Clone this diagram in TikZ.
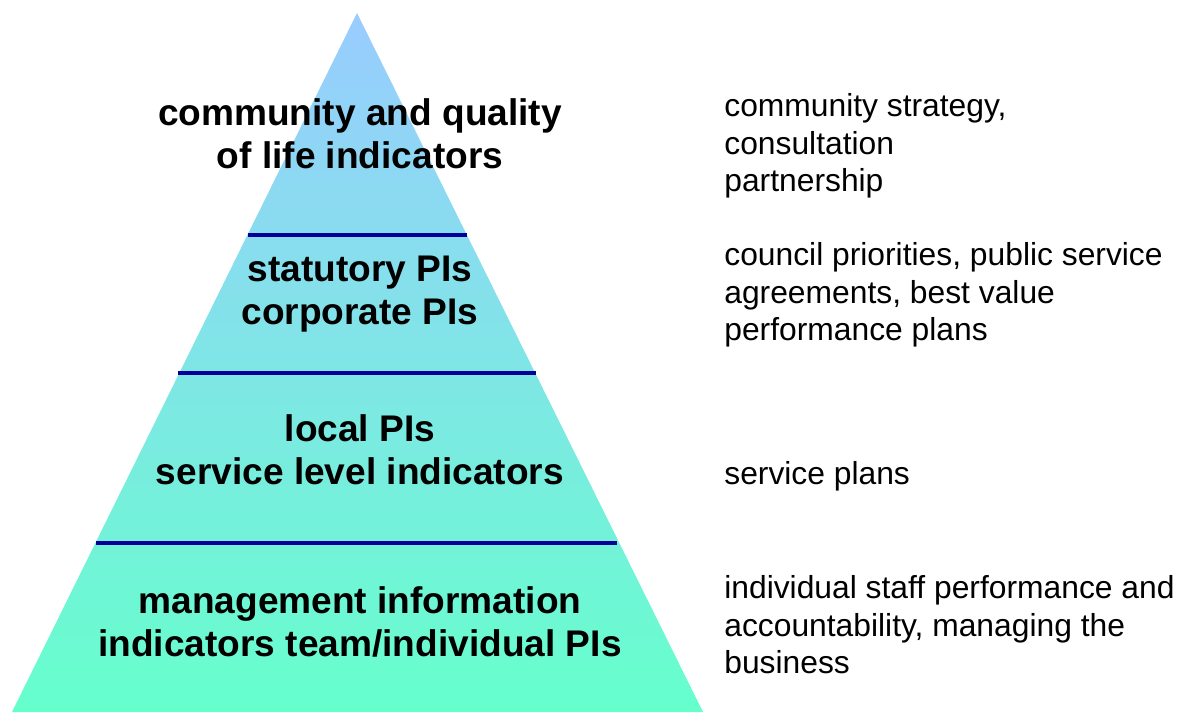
\documentclass[tikz,border=0pt]{standalone}
\usepackage{fontspec}
\setmainfont{Liberation Sans}
\usepackage{tikz}
\usetikzlibrary{positioning}
\definecolor{apexblue}{HTML}{99CCFF}
\definecolor{basegreen}{HTML}{66FFCC}
\definecolor{tierline}{HTML}{000099}
\tikzset{
    tier/.style={align=center, font=\fontsize{21.1}{24.6}\selectfont\bfseries, inner sep=0pt},
    note/.style={align=left, anchor=west, font=\fontsize{18.1}{21.4}\selectfont, inner sep=0pt},
    divider/.style={draw=tierline, line width=2.8pt}
}

\begin{document}
\begin{tikzpicture}[x=0.02cm, y=-0.02cm]
    \useasboundingbox (0,0) rectangle (1180,713);
    \coordinate (apex) at (357,13);
    \coordinate (baseL) at (12,712);
    \coordinate (baseR) at (703,712);
    \shade[top color=apexblue, bottom color=basegreen] (apex) -- (baseR) -- (baseL) -- cycle;
    % dividers between the tiers
    \draw[divider] (247.5,235) -- (467,235);
    \draw[divider] (178,373) -- (536,373);
    \draw[divider] (96,543) -- (617,543);
    % tier labels
    \node[tier] (community) at (360,134) {community and quality\\of life indicators};
    \node[tier] (statutory) at (360,294) {statutory PIs\\corporate PIs};
    \node[tier] (local) at (360,450) {local PIs\\service level indicators};
    \node[tier] (mgmt) at (360,622) {management information\\indicators team/individual PIs};
    % notes on the right
    \node[note] (strategy) at (724,146) {community strategy,\\consultation\\partnership};
    \node[note] (priorities) at (724,295) {council priorities, public service\\agreements, best value\\performance plans};
    \node[note] (plans) at (724,476) {service plans};
    \node[note] (staff) at (724,625) {individual staff performance and\\accountability, managing the\\business};
\end{tikzpicture}
\end{document}
